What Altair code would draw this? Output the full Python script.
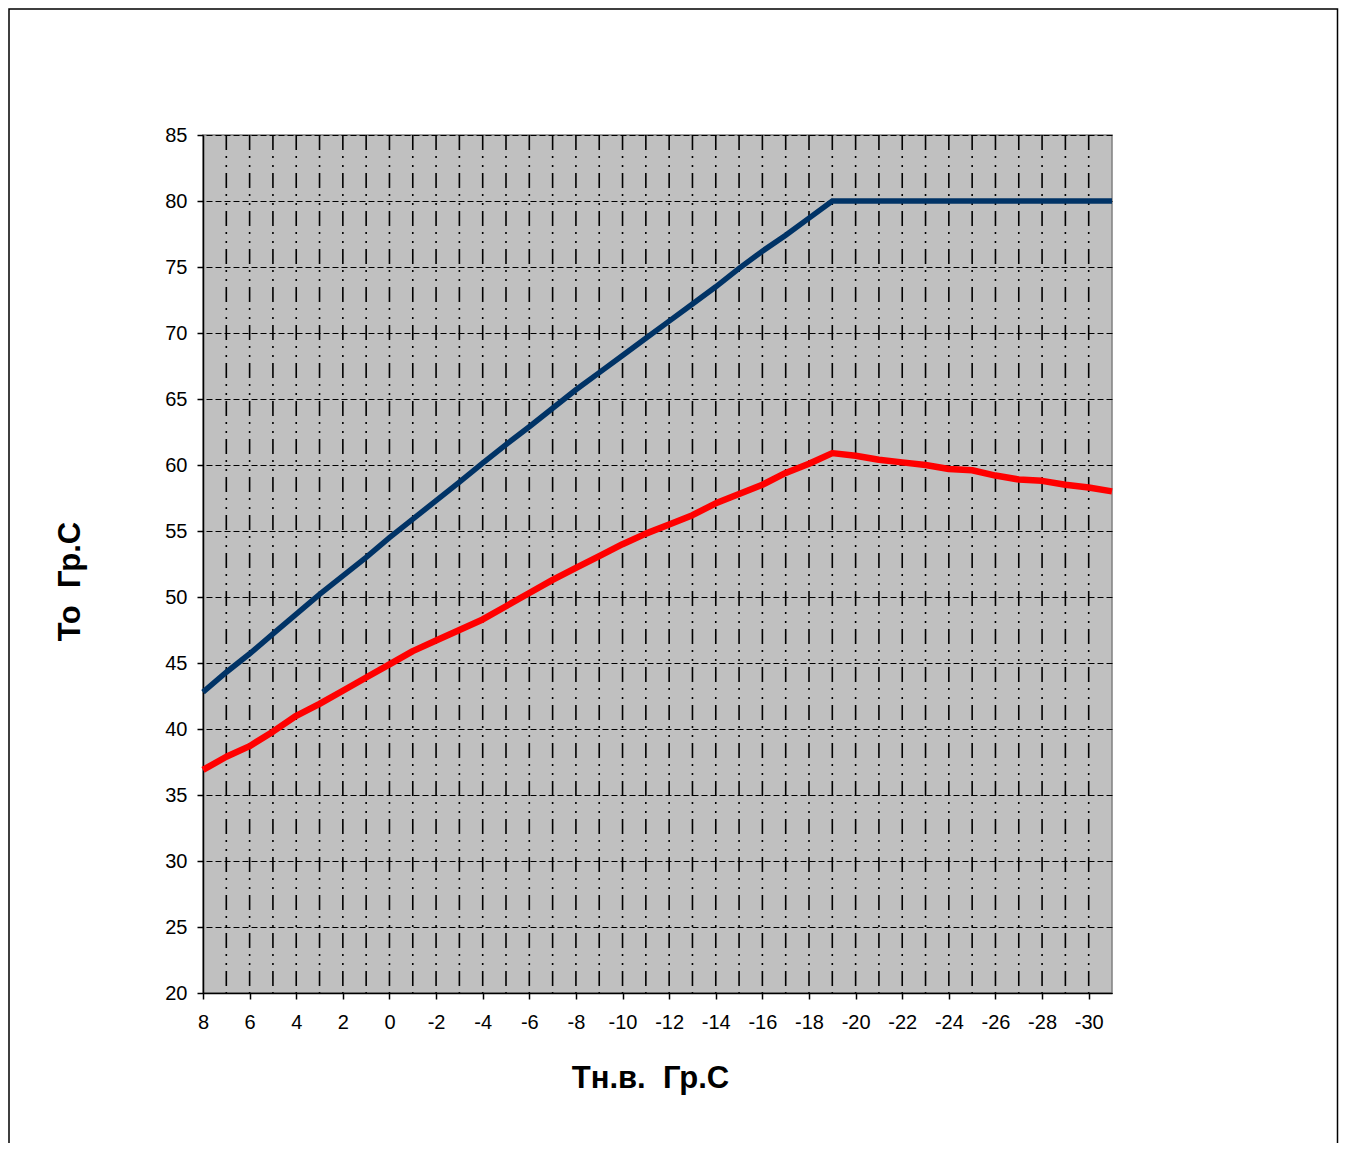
import altair as alt
import pandas as pd

# Outdoor temperature categories (x), supply and return temperatures (y)
t_out = [8, 7, 6, 5, 4, 3, 2, 1, 0, -1, -2, -3, -4, -5, -6, -7, -8, -9, -10,
         -11, -12, -13, -14, -15, -16, -17, -18, -19, -20, -21, -22, -23, -24,
         -25, -26, -27, -28, -29, -30, -31]
t_supply = [42.8, 44.3, 45.7, 47.2, 48.7, 50.2, 51.6, 53.0, 54.5, 55.9, 57.3,
            58.7, 60.15, 61.55, 62.9, 64.3, 65.7, 67.0, 68.3, 69.6, 70.9, 72.2,
            73.5, 74.9, 76.2, 77.4, 78.7, 80.0, 80.0, 80.0, 80.0, 80.0, 80.0,
            80.0, 80.0, 80.0, 80.0, 80.0, 80.0, 80.0]
t_return = [36.9, 37.9, 38.7, 39.8, 41.0, 41.9, 42.9, 43.9, 44.9, 45.9, 46.7,
            47.5, 48.3, 49.3, 50.3, 51.3, 52.2, 53.1, 54.0, 54.8, 55.5, 56.2,
            57.1, 57.8, 58.5, 59.4, 60.1, 60.9, 60.7, 60.4, 60.2, 60.0, 59.7,
            59.6, 59.2, 58.9, 58.8, 58.5, 58.3, 58.0]
x_ticks = [8, 6, 4, 2, 0, -2, -4, -6, -8, -10, -12, -14, -16, -18, -20, -22,
           -24, -26, -28, -30]
y_ticks = [20, 25, 30, 35, 40, 45, 50, 55, 60, 65, 70, 75, 80, 85]

df = pd.DataFrame({"x": t_out, "supply": t_supply, "ret": t_return})

W, H = 909, 858
FONT = "Liberation Sans"

xscale = alt.Scale(domain=[-31, 8], reverse=True, nice=False, zero=False)
yscale = alt.Scale(domain=[20, 85], nice=False, zero=False)

xaxis = alt.Axis(
    values=x_ticks, grid=False, labelExpr="'' + datum.value",
    domainColor="black", domainWidth=1.5, tickColor="black", tickSize=6,
    tickWidth=1.5, labelFont=FONT, labelFontSize=20, labelColor="black",
    labelPadding=13, labelFlush=False, labelOverlap=False,
    title="Тн.в.\u00a0 Гр.С", titleFont=FONT, titleFontSize=31,
    titleFontWeight="bold", titleColor="black", titleX=447, titleY=94,
    titleBaseline="alphabetic",
)
yaxis = alt.Axis(
    values=y_ticks, grid=True, gridColor="black", gridDash=[6, 3],
    gridWidth=1, domainColor="black", domainWidth=1.5, tickColor="black",
    tickSize=6, tickWidth=1.5, labelFont=FONT, labelFontSize=20,
    labelColor="black", labelPadding=10, labelFlush=False,
    title="То\u00a0 Гр.С", titleFont=FONT, titleFontSize=31,
    titleFontWeight="bold", titleColor="black", titleX=-124, titleY=446,
    titleBaseline="alphabetic",
)

X = alt.X("x:Q", scale=xscale, axis=xaxis)

frame = alt.Chart(pd.DataFrame({"a": [0]})).mark_rect(
    fillOpacity=0, stroke="black", strokeWidth=1.5
).encode(x=alt.value(-194), x2=alt.value(1134.5), y=alt.value(-126),
         y2=alt.value(1100))

vgrid = alt.Chart(df).transform_filter(
    "datum.x < 8 && datum.x > -31"
).mark_rule(color="black", strokeWidth=1.6,
            strokeDash=[15, 6, 2, 7, 2, 6]).encode(x=X)

supply = alt.Chart(df).mark_line(
    color="#003366", strokeWidth=5.5, strokeJoin="miter"
).encode(x=X, y=alt.Y("supply:Q", scale=yscale, axis=yaxis))

ret = alt.Chart(df).mark_line(
    color="#FF0000", strokeWidth=6.5, strokeJoin="round"
).encode(x=X, y=alt.Y("ret:Q", scale=yscale, axis=yaxis))

chart = alt.layer(frame, vgrid, supply, ret).properties(
    width=W, height=H,
    padding={"left": 195, "top": 127, "right": 227, "bottom": 150},
    autosize=alt.AutoSizeParams(type="none"),
    background="white",
).configure_view(fill="#C0C0C0", stroke="#808080", strokeWidth=1.5)

chart.save("out.html", embed_options={"renderer": "svg", "actions": False})
